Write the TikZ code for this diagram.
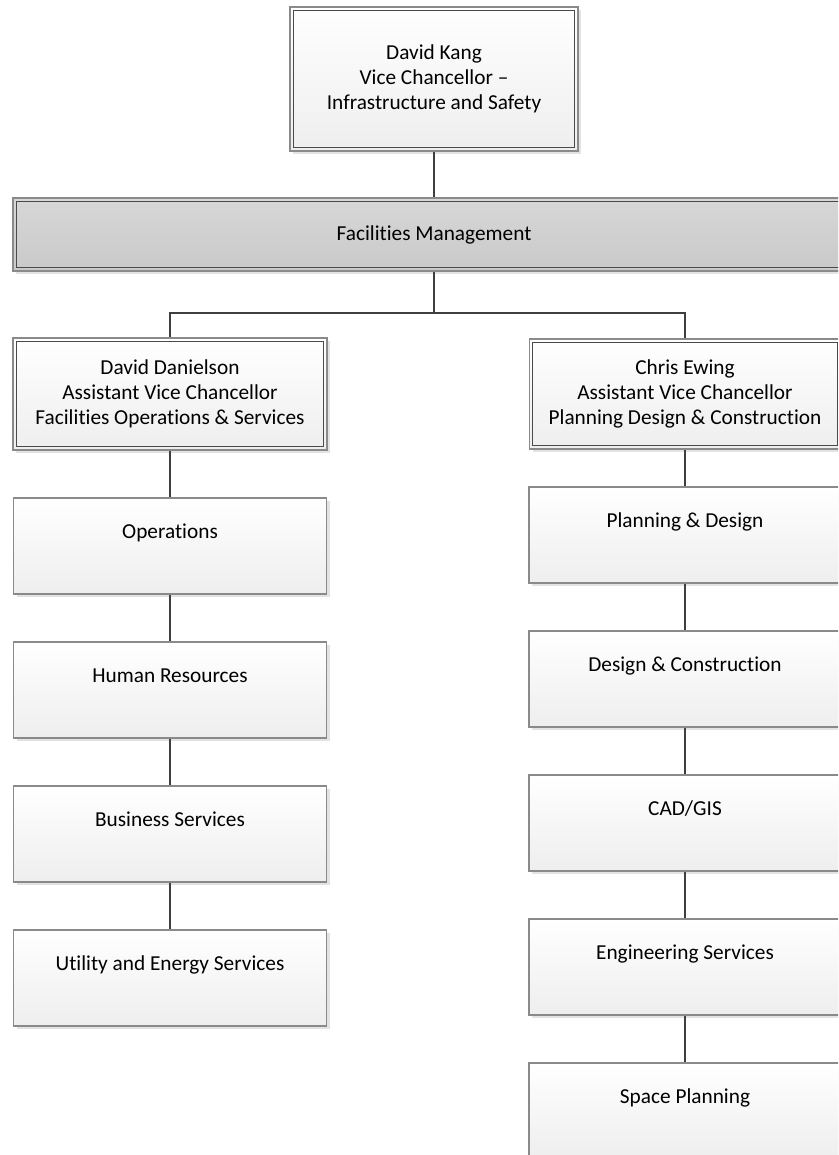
\documentclass[tikz,border=0pt]{standalone}
\usepackage{fontspec}
\setmainfont[Ligatures={TeX,NoCommon}]{Carlito}
\usetikzlibrary{shadows}
\definecolor{framegray}{HTML}{8A8A8A}
\definecolor{innergray}{HTML}{4A4A4A}
\definecolor{linkgray}{HTML}{3F3F3F}
\definecolor{bandtop}{HTML}{D7D7D7}
\definecolor{bandbot}{HTML}{C9C9C9}
\definecolor{boxbot}{HTML}{EEEEEE}
\tikzset{
  card/.style={rectangle, draw=framegray, line width=1.3pt, inner sep=0pt,
    top color=white, bottom color=boxbot,
    drop shadow={shadow xshift=3pt, shadow yshift=-3pt, fill=black!11, opacity=1}},
  unit/.style={card, minimum height=96pt, text height=14pt, text depth=29pt},
  head/.style={card, line width=1.8pt, align=center},
  band/.style={head, top color=bandtop, bottom color=bandbot},
  inner/.style={draw=innergray, line width=1pt},
  link/.style={draw=linkgray, line width=1.7pt}
}
\begin{document}
\begin{tikzpicture}[x=1pt, y=-1pt, font=\fontsize{21.3}{25}\selectfont]
\useasboundingbox (0,0) rectangle (838,1155);
\clip (0,0) rectangle (838,1155);
% top of the chart
\node[head, minimum width=288pt, minimum height=144pt] (kang) at (434,79)
  {David Kang\\Vice Chancellor –\\Infrastructure and Safety};
\node[band, minimum width=842pt, minimum height=73pt] (fm) at (434,234.5)
  {Facilities Management};
\node[head, minimum width=314pt, minimum height=112pt] (danielson) at (170,394)
  {David Danielson\\Assistant Vice Chancellor\\Facilities Operations \& Services};
\node[head, minimum width=311pt, minimum height=110pt] (ewing) at (685,394)
  {Chris Ewing\\Assistant Vice Chancellor\\Planning Design \& Construction};
% the two columns
\foreach \n/\t [count=\i from 0] in {ops/Operations, hr/Human Resources,
    bizsvc/Business Services, util/Utility and Energy Services}
  \node[unit, minimum width=313pt] (\n) at (170,546+144*\i) {\t};
\foreach \n/\t [count=\i from 0] in {pd/Planning \& Design, dc/Design \& Construction,
    cad/{CAD/GIS}, eng/Engineering Services, space/Space Planning}
  \node[unit, minimum width=312pt] (\n) at (685,535+144*\i) {\t};
% inner frames
\foreach \n in {kang,fm,danielson,ewing}
  \draw[inner] ([shift={(4pt,-4pt)}]\n.north west) rectangle ([shift={(-4pt,4pt)}]\n.south east);
% connectors
\coordinate (junc) at (434,313);
\draw[link] (kang.south) -- (fm.north);
\draw[link] (fm.south) -- (junc) -| (danielson.north);
\draw[link] (junc) -| (ewing.north);
\foreach \a/\b in {danielson/ops, ops/hr, hr/bizsvc, bizsvc/util,
    ewing/pd, pd/dc, dc/cad, cad/eng, eng/space}
  \draw[link] (\a.south) -- (\b.north);
\end{tikzpicture}
\end{document}
